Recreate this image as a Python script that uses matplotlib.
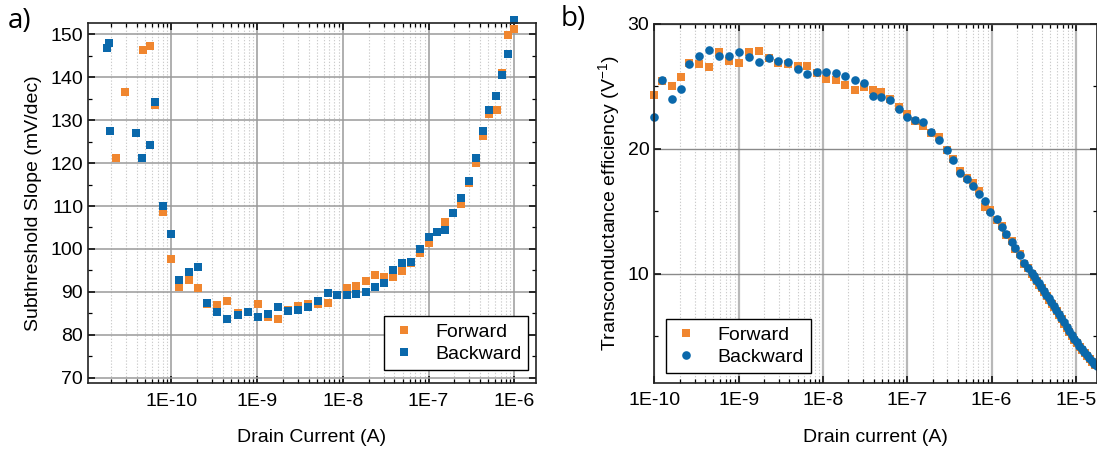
import matplotlib
matplotlib.use("Agg")
import matplotlib.pyplot as plt
from matplotlib.ticker import FixedLocator, FixedFormatter, LogLocator, NullFormatter, MultipleLocator

plt.rcParams['font.family'] = ['Liberation Sans', 'DejaVu Sans']
plt.rcParams['mathtext.default'] = 'regular'

# ---------------- data: panel a) subthreshold slope ----------------
a_fwd_x = [1.93e-11, 2.25e-11, 2.88e-11, 4.64e-11, 5.65e-11, 6.45e-11, 7.94e-11, 1.0e-10,
           1.24e-10, 1.61e-10, 2.03e-10, 2.63e-10, 3.45e-10, 4.5e-10, 5.94e-10, 7.78e-10,
           1.02e-9, 1.33e-9, 1.74e-9, 2.28e-9, 2.98e-9, 3.9e-9, 5.1e-9, 6.67e-9, 8.55e-9,
           1.11e-8, 1.42e-8, 1.85e-8, 2.38e-8, 3.05e-8, 3.88e-8, 4.9e-8, 6.19e-8, 7.94e-8,
           1.0e-7, 1.24e-7, 1.54e-7, 1.95e-7, 2.39e-7, 2.97e-7, 3.57e-7, 4.28e-7, 5.07e-7,
           6.2e-7, 7.2e-7, 8.38e-7, 9.84e-7]
a_fwd_y = [127.5, 121.2, 136.5, 146.2, 147.3, 133.5, 108.7, 97.6,
           91.2, 92.8, 90.9, 87.1, 86.9, 87.9, 85.0, 85.4,
           87.3, 84.2, 83.6, 85.8, 86.7, 87.3, 87.1, 87.4, 89.3,
           91.0, 91.3, 92.5, 94.0, 93.5, 93.5, 94.9, 96.7, 99.1,
           101.3, 104.0, 106.3, 108.3, 110.4, 115.3, 120.1, 126.3, 131.4,
           132.4, 141.0, 149.7, 151.2]
a_bwd_x = [1.79e-11, 1.87e-11, 1.93e-11, 3.85e-11, 4.52e-11, 5.65e-11, 6.45e-11, 7.94e-11, 1.0e-10,
           1.24e-10, 1.61e-10, 2.03e-10, 2.63e-10, 3.39e-10, 4.43e-10, 5.94e-10, 7.78e-10,
           1.02e-9, 1.33e-9, 1.74e-9, 2.28e-9, 2.98e-9, 3.9e-9, 5.1e-9, 6.67e-9, 8.55e-9,
           1.11e-8, 1.42e-8, 1.85e-8, 2.38e-8, 3.05e-8, 3.88e-8, 4.9e-8, 6.19e-8, 7.94e-8,
           1.0e-7, 1.24e-7, 1.54e-7, 1.95e-7, 2.39e-7, 2.97e-7, 3.57e-7, 4.28e-7, 5.07e-7,
           6.07e-7, 7.2e-7, 8.38e-7, 9.84e-7]
a_bwd_y = [146.7, 147.9, 127.5, 126.9, 121.2, 124.2, 134.3, 110.0, 103.6,
           92.7, 94.6, 95.8, 87.4, 85.3, 83.6, 84.7, 85.3,
           84.2, 84.8, 86.4, 85.5, 85.8, 86.5, 87.9, 89.7, 89.2,
           89.2, 89.6, 90.0, 91.2, 92.1, 95.2, 96.8, 97.0, 99.9,
           102.8, 104.0, 104.5, 108.4, 111.8, 115.8, 121.1, 127.5, 132.4,
           135.5, 140.4, 145.4, 153.2]
a_xticks = [1e-10, 1e-9, 1e-8, 1e-7, 1e-6]
a_xticklabels = ['1E-10', '1E-9', '1E-8', '1E-7', '1E-6']

# ---------------- data: panel b) transconductance efficiency ----------------
b_bwd_x = [1.0e-10, 1.24e-10, 1.6e-10, 2.07e-10, 2.6e-10, 3.42e-10, 4.49e-10, 5.9e-10, 7.76e-10,
           1.01e-9, 1.32e-9, 1.74e-9, 2.28e-9, 2.96e-9, 3.89e-9, 5.02e-9, 6.53e-9, 8.43e-9,
           1.08e-8, 1.43e-8, 1.85e-8, 2.38e-8, 3.07e-8, 3.96e-8, 4.93e-8, 6.25e-8, 7.94e-8, 9.87e-8,
           1.24e-7, 1.55e-7, 1.91e-7, 2.38e-7, 2.94e-7, 3.47e-7, 4.23e-7, 5.08e-7, 6.08e-7, 7.11e-7,
           8.44e-7, 9.6e-7, 1.15e-6, 1.32e-6, 1.49e-6, 1.74e-6, 1.9e-6, 2.18e-6, 2.45e-6, 2.73e-6,
           3.0e-6, 3.16e-6, 3.39e-6, 3.63e-6, 3.89e-6, 4.17e-6, 4.47e-6, 4.79e-6, 5.13e-6, 5.50e-6,
           5.89e-6, 6.31e-6, 6.76e-6, 7.24e-6, 7.76e-6, 8.32e-6, 8.91e-6, 9.55e-6, 1.02e-5, 1.10e-5,
           1.17e-5, 1.26e-5, 1.35e-5, 1.45e-5, 1.55e-5, 1.66e-5, 1.76e-5]
b_bwd_y = [22.58, 25.52, 24.0, 24.8, 26.78, 27.46, 27.92, 27.44, 27.44,
           27.73, 27.39, 26.98, 27.3, 27.06, 26.98, 26.38, 26.0, 26.18,
           26.12, 26.06, 25.86, 25.52, 25.25, 24.26, 24.13, 23.92, 23.2, 22.58,
           22.32, 22.18, 21.34, 20.72, 19.92, 19.12, 18.06, 17.58, 17.04, 16.38,
           15.84, 14.98, 14.4, 13.74, 13.2, 12.54, 12.06, 11.52, 10.9, 10.46,
           10.06, 9.85, 9.55, 9.25, 8.97, 8.67, 8.35, 8.05, 7.75, 7.45,
           7.15, 6.82, 6.48, 6.12, 5.77, 5.43, 5.12, 4.83, 4.55, 4.27,
           4.0, 3.75, 3.5, 3.27, 3.05, 2.82, 2.6]
b_fwd_x = [1.0e-10, 1.24e-10, 1.6e-10, 2.07e-10, 2.6e-10, 3.42e-10, 4.49e-10, 5.9e-10, 7.76e-10,
           1.01e-9, 1.32e-9, 1.74e-9, 2.28e-9, 2.96e-9, 3.89e-9, 5.02e-9, 6.53e-9, 8.43e-9,
           1.08e-8, 1.43e-8, 1.85e-8, 2.38e-8, 3.07e-8, 3.96e-8, 4.93e-8, 6.25e-8, 7.94e-8, 9.87e-8,
           1.24e-7, 1.55e-7, 1.91e-7, 2.38e-7, 2.94e-7, 3.47e-7, 4.23e-7, 5.08e-7, 6.08e-7, 7.11e-7,
           8.44e-7, 9.6e-7, 1.15e-6, 1.32e-6, 1.49e-6, 1.74e-6, 1.9e-6, 2.18e-6, 2.45e-6, 2.73e-6,
           3.0e-6, 3.2e-6, 3.43e-6, 3.67e-6, 3.93e-6, 4.21e-6, 4.51e-6, 4.84e-6, 5.18e-6, 5.55e-6,
           5.95e-6, 6.37e-6, 6.83e-6, 7.31e-6, 7.84e-6, 8.40e-6, 9.0e-6, 9.65e-6, 1.03e-5, 1.11e-5,
           1.18e-5, 1.27e-5, 1.36e-5, 1.46e-5, 1.57e-5, 1.68e-5]
b_fwd_y = [24.32, 25.4, 25.04, 25.73, 26.9, 26.78, 26.58, 27.73, 27.04,
           26.85, 27.79, 27.84, 27.3, 26.9, 26.8, 26.67, 26.67, 26.1,
           25.6, 25.52, 25.12, 24.72, 24.93, 24.72, 24.53, 24.0, 23.38, 22.8,
           22.2, 21.84, 21.3, 20.98, 19.95, 19.2, 18.2, 17.7, 17.3, 16.6,
           15.38, 15.1, 14.3, 13.8, 13.1, 12.6, 12.0, 11.6, 10.8, 10.5,
           10.0, 9.72, 9.45, 9.15, 8.85, 8.55, 8.25, 7.95, 7.62, 7.33,
           7.03, 6.7, 6.36, 6.0, 5.65, 5.33, 5.02, 4.74, 4.46, 4.18,
           3.92, 3.67, 3.43, 3.2, 2.97, 2.75]
b_xticks = [1e-10, 1e-9, 1e-8, 1e-7, 1e-6, 1e-5]
b_xticklabels = ['1E-10', '1E-9', '1E-8', '1E-7', '1E-6', '1E-5']

ORANGE = '#F0862F'
BLUE = '#0A68AB'

fig = plt.figure(figsize=(10.97, 4.5), dpi=100)
axA = fig.add_axes([88/1097, 1-383/450, (536-88)/1097, (383-23)/450])
axB = fig.add_axes([654.3/1097, 1-382.7/450, (1096.5-654.3)/1097, (382.7-24)/450])


def style(ax, xticks, xlabels):
    ax.set_xscale('log')
    ax.xaxis.set_major_locator(FixedLocator(xticks))
    ax.xaxis.set_major_formatter(FixedFormatter(xlabels))
    ax.xaxis.set_minor_locator(LogLocator(base=10, subs=[2, 3, 4, 5, 6, 7, 8, 9], numticks=50))
    ax.xaxis.set_minor_formatter(NullFormatter())
    ax.tick_params(which='both', direction='in', top=True, right=True, labelsize=14)
    ax.tick_params(which='major', length=5, width=1.1)
    ax.tick_params(which='minor', length=3, width=0.9)
    ax.tick_params(axis='x', which='major', pad=7)
    for s in ax.spines.values():
        s.set_linewidth(1.2)
        s.set_color('#222222')
    ax.grid(True, which='minor', axis='x', color='#cccccc', linestyle=(0, (1.2, 1.6)), linewidth=0.8)
    ax.set_axisbelow(True)


# ---- panel a ----
style(axA, a_xticks, a_xticklabels)
axA.grid(True, which='major', axis='both', color='#9a9a9a', linewidth=1.1)
axA.set_xlim(1.07e-11, 1.79e-6)
axA.set_ylim(68.8, 152.6)
axA.yaxis.set_major_locator(MultipleLocator(10))
axA.yaxis.set_minor_locator(MultipleLocator(5))
axA.plot(a_fwd_x, a_fwd_y, 's', color=ORANGE, markersize=5.6, markeredgewidth=0, label='Forward', clip_on=False)
axA.plot(a_bwd_x, a_bwd_y, 's', color=BLUE, markersize=5.6, markeredgewidth=0, label='Backward', clip_on=False)
axA.set_xlabel('Drain Current (A)', fontsize=14, labelpad=14)
axA.set_ylabel('Subthreshold Slope (mV/dec)', fontsize=14, labelpad=6)
legA = axA.legend(loc='lower right', bbox_to_anchor=(0.983, 0.036), fontsize=14, frameon=True,
                  fancybox=False, edgecolor='black', framealpha=1, borderpad=0.35,
                  handletextpad=0.9, handlelength=1.4, labelspacing=0.25, borderaxespad=0)
legA.get_frame().set_linewidth(1.0)

# ---- panel b ----
style(axB, b_xticks, b_xticklabels)
axB.grid(True, which='major', axis='x', color='#b8b8b8', linewidth=1.6)
axB.grid(True, which='major', axis='y', color='#8a8a8a', linewidth=1.0)
axB.set_xlim(1e-10, 1.76e-5)
axB.set_ylim(1.3, 30)
axB.yaxis.set_major_locator(FixedLocator([10, 20, 30]))
axB.yaxis.set_minor_locator(FixedLocator([5, 15, 25]))
axB.plot(b_fwd_x, b_fwd_y, 's', color=ORANGE, markersize=5.6, markeredgewidth=0, label='Forward', clip_on=False)
axB.plot(b_bwd_x, b_bwd_y, 'o', color=BLUE, markersize=6.2, markeredgewidth=0, label='Backward', clip_on=False)
axB.set_xlabel('Drain current (A)', fontsize=14, labelpad=14)
axB.set_ylabel('Transconductance efficiency (V$^{-1}$)', fontsize=14, labelpad=4)
legB = axB.legend(loc='lower left', bbox_to_anchor=(0.026, 0.027), fontsize=14, frameon=True,
                  fancybox=False, edgecolor='black', framealpha=1, borderpad=0.35,
                  handletextpad=0.9, handlelength=1.4, labelspacing=0.25, borderaxespad=0)
legB.get_frame().set_linewidth(1.0)

fig.text(8/1097, 1-21/450, 'a)', fontsize=20, family=['Open Sans', 'DejaVu Sans'], va='center', ha='left')
fig.text(561/1097, 1-19/450, 'b)', fontsize=20, family=['Open Sans', 'DejaVu Sans'], va='center', ha='left')

fig.savefig('out.png', dpi=100)
